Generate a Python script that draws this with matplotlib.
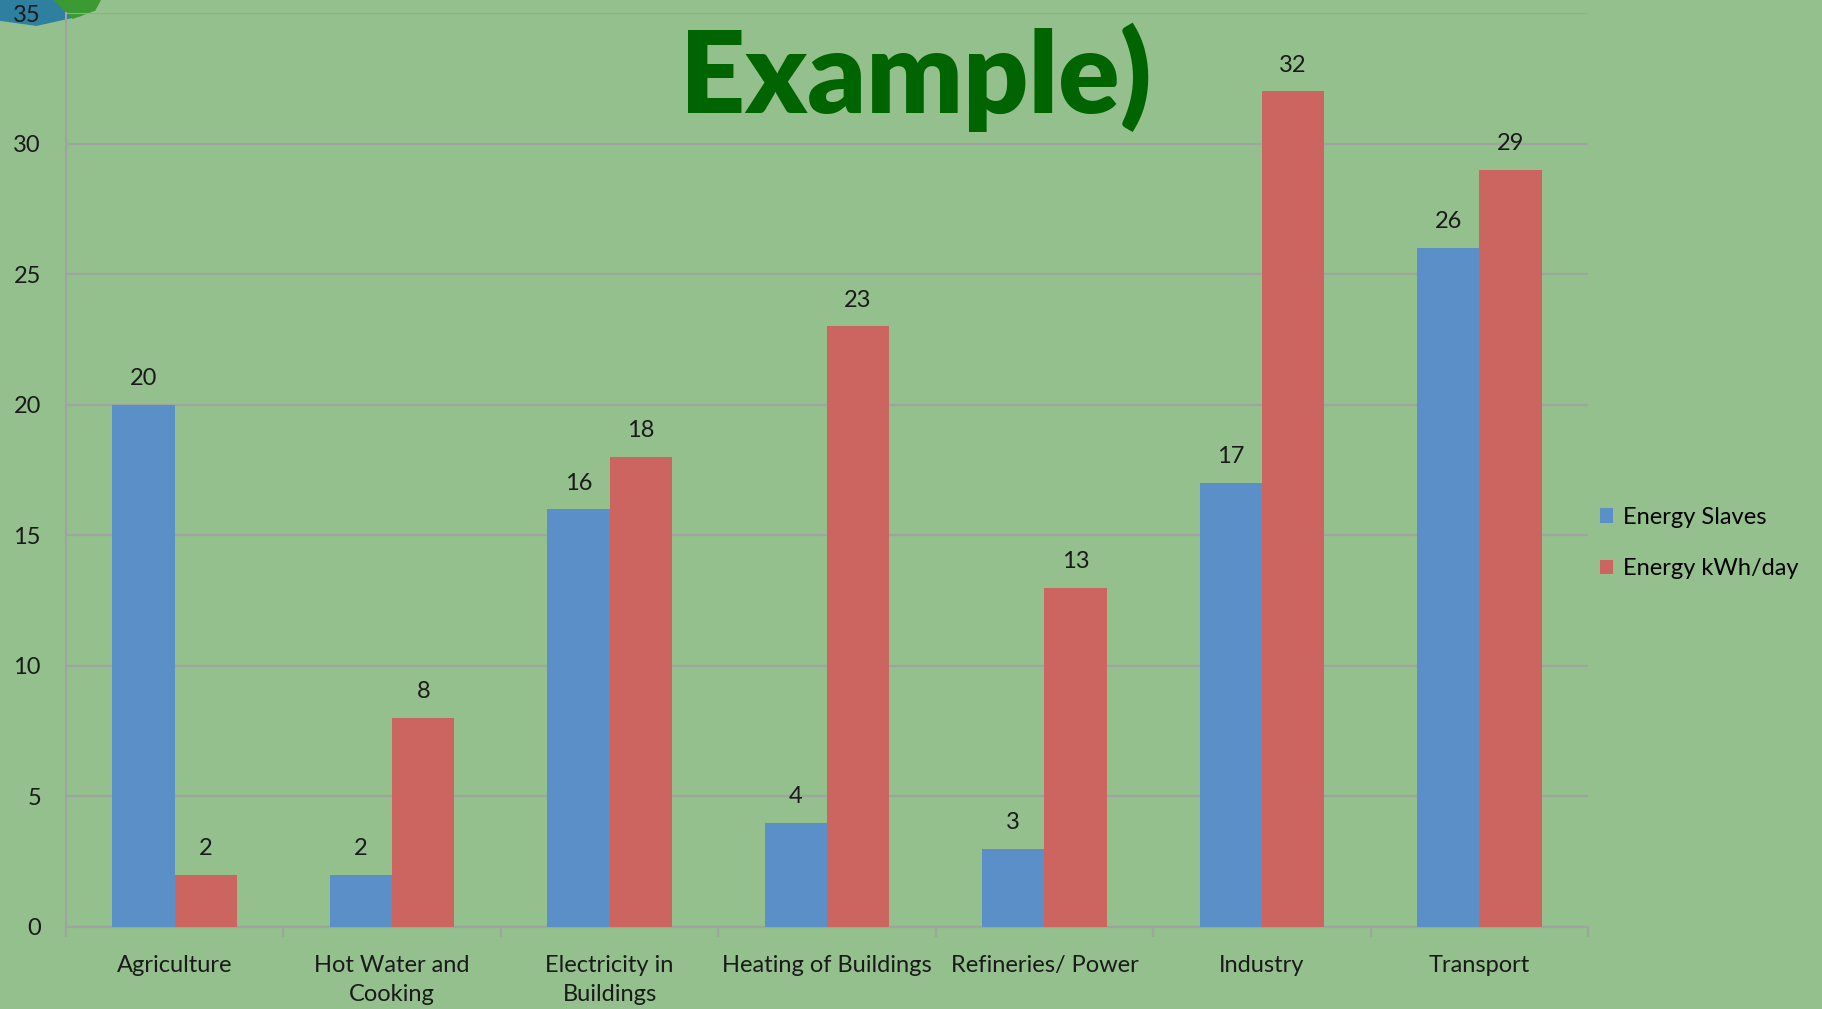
import numpy as np
import matplotlib.pyplot as plt
from matplotlib.patches import Polygon

categories = ['Agriculture', 'Hot Water and\nCooking', 'Electricity in\nBuildings',
              'Heating of Buildings', 'Refineries/ Power', 'Industry', 'Transport']
energy_slaves = [20, 2, 16, 4, 3, 17, 26]
energy_kwh = [2, 8, 18, 23, 13, 32, 29]
series_names = ['Energy Slaves', 'Energy kWh/day']

bg = '#93c08c'
blue = '#5b8fc8'
red = '#cc6560'
grid = '#a0a4a0'

plt.rcParams['font.family'] = ['Lato', 'DejaVu Sans']

fig = plt.figure(figsize=(18.22, 10.09), dpi=100)
fig.patch.set_facecolor(bg)

# decorative blobs in the top-left corner
fig.patches.append(Polygon([[0, 1], [0.03, 1], [0.045, 0.985], [0.02, 0.975], [0, 0.98]],
                           closed=True, transform=fig.transFigure, color='#2f7fa0', zorder=-5))
fig.patches.append(Polygon([[0.03, 1], [0.055, 1], [0.052, 0.99], [0.04, 0.982]],
                           closed=True, transform=fig.transFigure, color='#3c9a32', zorder=-5))

ax = fig.add_axes([0.0362, 0.0813, 0.8354, 0.9057])
ax.set_facecolor('none')
ax.set_zorder(2)

x = np.arange(len(categories))
w = 0.286
b1 = ax.bar(x - w/2, energy_slaves, w, color=blue, label=series_names[0], zorder=3)
b2 = ax.bar(x + w/2, energy_kwh, w, color=red, label=series_names[1], zorder=3)

for bars, vals in [(b1, energy_slaves), (b2, energy_kwh)]:
    for r, v in zip(bars, vals):
        ax.text(r.get_x() + r.get_width()/2, v + 0.6, str(v), ha='center', va='bottom',
                fontsize=17, color='#1a1a1a', zorder=4)

ax.set_xlim(-0.5, len(categories) - 0.5)
ax.set_ylim(0, 35)
ax.set_yticks(range(0, 36, 5))
ax.yaxis.grid(True, color=grid, linewidth=1.5, zorder=1)
ax.set_axisbelow(True)

ax.set_xticks(x)
ax.set_xticklabels(categories, fontsize=17, color='#1a1a1a', linespacing=1.5)
ax.tick_params(axis='x', length=0, pad=20)
ax.set_xticks(np.arange(-0.5, len(categories), 1), minor=True)
ax.tick_params(axis='x', which='minor', length=7, color=grid, width=1.5)
ax.tick_params(axis='y', length=0, pad=18, labelsize=17, labelcolor='#1a1a1a')

for s in ['top', 'right']:
    ax.spines[s].set_visible(False)
for s in ['left', 'bottom']:
    ax.spines[s].set_color(grid)
    ax.spines[s].set_linewidth(1.5)

ax.legend(loc='center left', bbox_to_anchor=(0.994, 0.42), frameon=False, fontsize=17,
          handlelength=0.55, handleheight=0.55, handletextpad=0.4, labelspacing=1.3)

fig.text(0.5027, 0.888, 'Example)', ha='center', va='baseline', fontsize=82,
         fontweight='heavy', color='#006400', zorder=5)

fig.savefig('out.png', dpi=100, facecolor=fig.get_facecolor())
